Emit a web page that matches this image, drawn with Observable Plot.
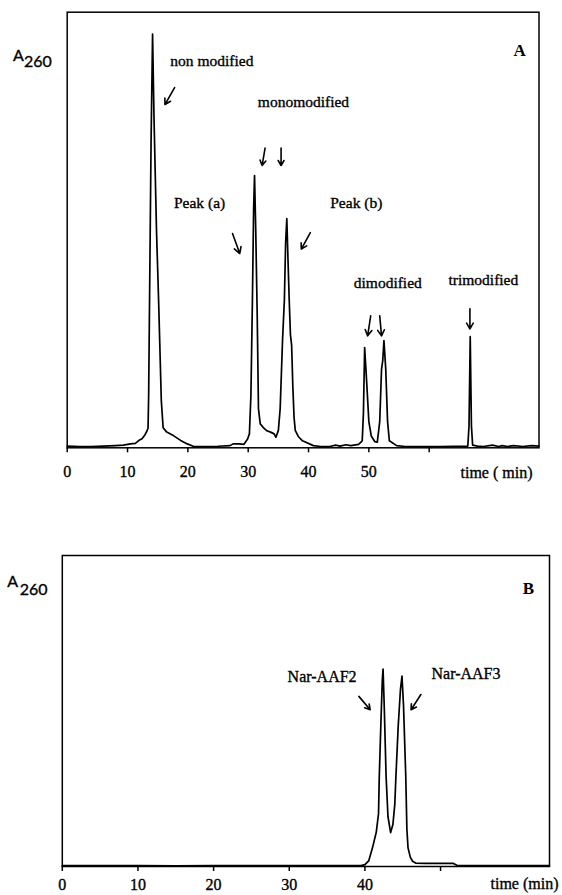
<!DOCTYPE html>
<html>
<head>
<meta charset="utf-8">
<script src="https://cdn.jsdelivr.net/npm/d3@7"></script>
<script src="https://cdn.jsdelivr.net/npm/@observablehq/plot@0.6"></script>
<style>
  html, body { margin: 0; padding: 0; background: #fff; }
  #chart { width: 562px; height: 895px; position: relative; overflow: hidden; }
  #chart svg { display: block; }
</style>
</head>
<body>
<div id="chart"></div>
<script>
// ---------- Panel A data (time in min, A260 relative units) ----------
const timesA = [0, 2, 4, 6, 8, 9.3, 10.5, 11.3, 12, 12.4, 12.9, 13.2, 13.4, 13.5, 13.65, 13.9, 14.15, 14.4, 14.8, 15.15,
  15.6, 15.9, 16.5, 17.6, 18.8, 19.9, 21, 23, 25, 27, 27.5, 28.5, 29.3, 29.9, 30.2, 30.45, 30.7, 30.9, 31.05, 31.25,
  31.5, 31.7, 32.0, 32.6, 33.1, 33.7, 34.3, 34.6, 35.0, 35.3, 35.7, 36.0, 36.2, 36.4, 36.6, 36.8, 37.0, 37.2, 37.4, 37.6,
  37.8, 38.3, 39, 40.8, 42, 43.5, 44.5, 45.2, 46.2, 47, 48.3, 48.9, 49.1, 49.3, 49.6, 50.0, 50.4, 51.0, 51.4, 51.8,
  52.1, 52.3, 52.5, 52.8, 53.1, 53.4, 54.6, 56, 58, 60, 62, 64, 66.4, 66.6, 66.8, 67.0, 67.2, 68, 69, 70.5,
  71.5, 72.1, 73, 74, 75.5, 77, 78.2];
const valuesA = [0.4, 0.3, 0.3, 0.4, 0.5, 0.6, 0.9, 1.0, 1.8, 2.1, 3.0, 3.8, 4.5, 12, 34, 70, 95, 75, 50, 33.8,
  10.8, 4.6, 3.6, 2.8, 1.7, 0.9, 0.3, 0.3, 0.35, 0.5, 0.9, 0.9, 0.8, 2, 3.2, 12, 34, 55, 62.5, 50,
  30, 9, 5.5, 4.5, 3.9, 3.6, 3.2, 2.4, 4, 9, 25, 34, 47, 52.6, 43, 33.8, 26, 23.5, 14, 7,
  4, 2.6, 1.6, 0.5, 0.3, 0.3, 0.6, 0.4, 0.7, 0.5, 0.8, 1.6, 8, 23, 16, 6, 2.7, 1.4, 1.3, 6,
  18, 20, 24.6, 18, 6, 1.6, 0.5, 0.3, 0.3, 0.3, 0.3, 0.35, 0.4, 5, 25.5, 5, 0.6, 0.4, 0.3, 0.6,
  0.3, 0.5, 0.3, 0.5, 0.3, 0.5, 0.4];
const ticksA = [0, 10, 20, 30, 40, 50, 60];
const tickLabelsA = [0, 10, 20, 30, 40, 50];

// ---------- Panel B data ----------
const timesB = [0, 5, 10, 15, 20, 25, 30, 35, 39.5, 40.0, 40.5, 41.0, 41.5, 41.8, 41.9, 42.1, 42.3, 42.4, 42.55, 42.8,
  43.05, 43.4, 43.7, 43.95, 44.1, 44.4, 44.7, 44.9, 45.1, 45.4, 45.55, 45.7, 46.0, 46.3, 46.7, 48, 50, 51.7, 52.2, 56,
  60, 64.4];
const valuesB = [0.3, 0.3, 0.3, 0.2, 0.3, 0.3, 0.3, 0.3, 0.3, 0.6, 1.8, 6, 11, 17, 29, 45, 60, 63.5, 52, 29,
  16, 10.9, 13.5, 20, 29, 45, 57, 61.2, 52, 29, 12, 6, 3, 1.7, 1.1, 1.0, 1.0, 1.0, 0.3, 0.3,
  0.3, 0.3];
const ticksB = [0, 10, 20, 30, 40, 50];
const tickLabelsB = [0, 10, 20, 30, 40];

// ---------- Annotations (data coordinates) ----------
const annotA = [
  {text: "non modified", x: 17.1, y: 88.9},
  {text: "monomodified", x: 31.6, y: 79.4},
  {text: "Peak (a)", x: 17.7, y: 56.2},
  {text: "Peak (b)", x: 43.6, y: 56.1},
  {text: "dimodified", x: 47.5, y: 37.9},
  {text: "trimodified", x: 63.2, y: 38.4}
];
const arrowsA = [
  {x1: 17.8, y1: 82.7, x2: 16.2, y2: 78.8},
  {x1: 32.8, y1: 68.8, x2: 32.3, y2: 64.8},
  {x1: 35.45, y1: 68.8, x2: 35.45, y2: 64.8},
  {x1: 27.4, y1: 49.2, x2: 28.6, y2: 44.6},
  {x1: 40.3, y1: 49.4, x2: 38.8, y2: 45.6},
  {x1: 50.3, y1: 30.3, x2: 49.8, y2: 25.7},
  {x1: 51.8, y1: 30.3, x2: 52.1, y2: 25.7},
  {x1: 66.75, y1: 31.9, x2: 66.75, y2: 27.3}
];
const annotBLeft = [{text: "Nar-AAF2", x: 38.9, y: 60.9}];
const annotBRight = [{text: "Nar-AAF3", x: 48.8, y: 61.9}];
const arrowsB = [
  {x1: 39.2, y1: 54.7, x2: 40.7, y2: 50.4},
  {x1: 47.4, y1: 55.3, x2: 46.1, y2: 50.4}
];

const rowsA = timesA.map((t, i) => ({t, v: valuesA[i]}));
const rowsB = timesB.map((t, i) => ({t, v: valuesB[i]}));

const serif = "'Liberation Serif', 'Times New Roman', serif";
const sans = "Lato, 'Open Sans', sans-serif";
const ink = {fill: "black", stroke: "black", strokeWidth: 0.35};

function ylabel(dxA, dyA, dx260, dy260) {
  return [
    Plot.text(["A"], {frameAnchor: "top-left", dx: dxA, dy: dyA, textAnchor: "start", lineAnchor: "bottom", fontFamily: sans, fontSize: 16, ...ink}),
    Plot.text(["260"], {frameAnchor: "top-left", dx: dx260, dy: dy260, textAnchor: "start", lineAnchor: "bottom", fontFamily: sans, fontSize: 16, ...ink})
  ];
}

const plotA = Plot.plot({
  width: 562, height: 500,
  marginTop: 11.7, marginBottom: 52.7, marginLeft: 66.7, marginRight: 23.5,
  x: {domain: [0, 78.2]},
  y: {domain: [0, 100], axis: null},
  style: {fontFamily: serif, fontSize: "16px", color: "black", background: "white"},
  marks: [
    Plot.frame({stroke: "black", strokeWidth: 1.5}),
    Plot.axisX({ticks: ticksA, tickSize: 5, tickPadding: 13, strokeWidth: 1.5, fontSize: 16,
      textStroke: "black", textStrokeWidth: 0.35,
      tickFormat: d => tickLabelsA.includes(d) ? String(d) : "", label: null}),
    Plot.line(rowsA, {x: "t", y: "v", stroke: "black", strokeWidth: 1.7, strokeLinejoin: "round"}),
    Plot.text(annotA, {x: "x", y: "y", text: "text", textAnchor: "start", lineAnchor: "middle", fontSize: 15.5, ...ink}),
    Plot.arrow(arrowsA, {x1: "x1", y1: "y1", x2: "x2", y2: "y2", stroke: "black", strokeWidth: 1.6, headLength: 7}),
    Plot.text(["A"], {x: () => 75.0, y: () => 91.2, textAnchor: "middle", lineAnchor: "middle", fontSize: 17, fontWeight: "bold", fill: "black"}),
    Plot.text(["time ( min)"], {frameAnchor: "bottom-right", dx: -6.5, dy: 29.7, textAnchor: "end", lineAnchor: "bottom", fontSize: 16, ...ink}),
    ...ylabel(12.6 - 66.7, 60 - 11.7, 23.4 - 66.7, 66.7 - 11.7)
  ]
});

const plotB = Plot.plot({
  width: 562, height: 395,
  marginTop: 55, marginBottom: 29, marginLeft: 61.8, marginRight: 13,
  x: {domain: [0, 64.4]},
  y: {domain: [0, 100], axis: null},
  style: {fontFamily: serif, fontSize: "16px", color: "black", background: "white"},
  marks: [
    Plot.frame({stroke: "black", strokeWidth: 1.5}),
    Plot.axisX({ticks: ticksB, tickSize: 5, tickPadding: 7, strokeWidth: 1.5, fontSize: 16,
      textStroke: "black", textStrokeWidth: 0.35,
      tickFormat: d => tickLabelsB.includes(d) ? String(d) : "", label: null}),
    Plot.line(rowsB, {x: "t", y: "v", stroke: "black", strokeWidth: 1.7, strokeLinejoin: "round"}),
    Plot.text(annotBLeft, {x: "x", y: "y", text: "text", textAnchor: "end", lineAnchor: "middle", fontSize: 16, ...ink}),
    Plot.text(annotBRight, {x: "x", y: "y", text: "text", textAnchor: "start", lineAnchor: "middle", fontSize: 16, ...ink}),
    Plot.arrow(arrowsB, {x1: "x1", y1: "y1", x2: "x2", y2: "y2", stroke: "black", strokeWidth: 1.6, headLength: 7}),
    Plot.text(["B"], {x: () => 61.6, y: () => 89.3, textAnchor: "middle", lineAnchor: "middle", fontSize: 17, fontWeight: "bold", fill: "black"}),
    Plot.text(["time (min)"], {frameAnchor: "bottom-right", dx: 9, dy: 22, textAnchor: "end", lineAnchor: "bottom", fontSize: 16, ...ink}),
    ...ylabel(6.7 - 61.8, 86.7 - 55, 19.3 - 61.8, 94 - 55)
  ]
});

const chart = document.getElementById("chart");
chart.appendChild(plotA);
chart.appendChild(plotB);
</script>
</body>
</html>
